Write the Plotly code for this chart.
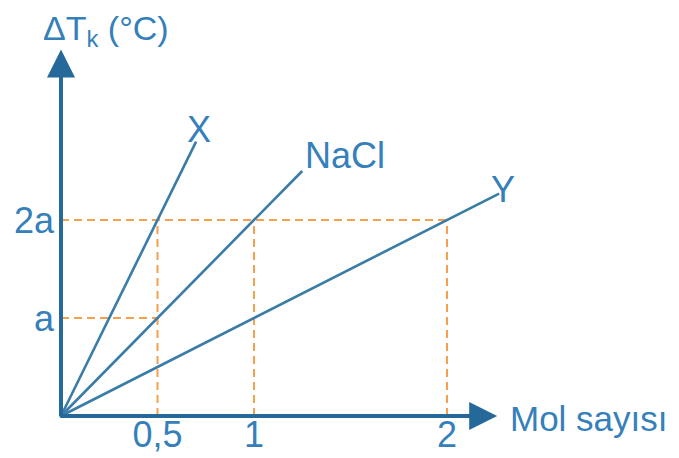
import plotly.graph_objects as go

# ---- data (y in units of "a", x in mol) ----
series_names = ["X", "NaCl", "Y"]
series_x = [[0, 0.7], [0, 1.25], [0, 2.27]]
series_y = [[0, 2.8], [0, 2.5], [0, 2.27]]

x_tick_vals = [0.5, 1, 2]
x_tick_text = ["0,5", "1", "2"]
y_tick_vals = [1, 2]
y_tick_text = ["a", "2a"]

# guide points
guide_x = [0.5, 1, 2]
guide_top = [2, 2, 2]
hguide_y = [1, 2]
hguide_xend = [0.5, 2]

AXIS = "#24699a"
LINE = "#3a7ca7"
TEXT = "#3580bb"
ORANGE = "#f5a04c"
FONT = "Liberation Sans, Arial, sans-serif"
FS = 36

# page body has an 8px margin -> figure is drawn 8px smaller and offset
W, H = 671, 450
OX, OY = 53, 408          # origin pixel inside figure
KX, KY = 193, 98          # pixels per unit

fig = go.Figure()

for gx, gt in zip(guide_x, guide_top):
    fig.add_trace(go.Scatter(x=[gx, gx], y=[0, gt], mode="lines",
                             line=dict(color=ORANGE, width=2, dash="8px,5px"),
                             hoverinfo="skip", showlegend=False))
for hy, hx in zip(hguide_y, hguide_xend):
    fig.add_trace(go.Scatter(x=[0, hx], y=[hy, hy], mode="lines",
                             line=dict(color=ORANGE, width=2, dash="8px,5px"),
                             hoverinfo="skip", showlegend=False))

for name, xs, ys in zip(series_names, series_x, series_y):
    fig.add_trace(go.Scatter(x=xs, y=ys, mode="lines", name=name,
                             line=dict(color=LINE, width=2.6),
                             showlegend=False))

annotations = []
# axis arrows
annotations.append(dict(x=2.26, y=0, ax=-0.012, ay=0, xref="x", yref="y",
                        axref="x", ayref="y", showarrow=True, arrowhead=2,
                        arrowwidth=4, arrowsize=1.4, arrowcolor=AXIS, text=""))
annotations.append(dict(x=0, y=3.74, ax=0, ay=-0.02, xref="x", yref="y",
                        axref="x", ayref="y", showarrow=True, arrowhead=2,
                        arrowwidth=4, arrowsize=1.4, arrowcolor=AXIS, text=""))

label_pos = {"X": (0.715, 2.92, "center"), "NaCl": (1.255, 2.66, "left"),
             "Y": (2.29, 2.31, "center")}
for name in series_names:
    lx, ly, anc = label_pos[name]
    annotations.append(dict(x=lx, y=ly, xref="x", yref="y", text=name,
                            showarrow=False, xanchor=anc, yanchor="middle",
                            font=dict(family=FONT, size=FS, color=TEXT)))

annotations.append(dict(x=-0.105, y=3.93, xref="x", yref="y",
                        text="ΔT<sub>k</sub> (°C)", showarrow=False,
                        xanchor="left", yanchor="middle",
                        font=dict(family=FONT, size=34, color=TEXT)))
annotations.append(dict(x=2.318, y=0, xref="x", yref="y", text="Mol sayısı",
                        showarrow=False, xanchor="left", yanchor="middle",
                        yshift=-2,
                        font=dict(family=FONT, size=35, color=TEXT)))

fig.update_layout(
    width=W, height=H,
    margin=dict(l=0, r=0, t=0, b=0, pad=0, autoexpand=False),
    paper_bgcolor="white", plot_bgcolor="white",
    annotations=annotations,
    xaxis=dict(range=[-OX / KX, (W - OX) / KX], showgrid=False, zeroline=False,
               showline=False, tickmode="array", tickvals=x_tick_vals,
               ticktext=x_tick_text, ticks="", ticklabelstandoff=-6,
               anchor="free", position=(H - OY) / H,
               tickfont=dict(family=FONT, size=FS, color=TEXT), fixedrange=True),
    yaxis=dict(range=[-(H - OY) / KY, OY / KY], showgrid=False, zeroline=False,
               showline=False, tickmode="array", tickvals=y_tick_vals,
               ticktext=y_tick_text, ticks="", ticklabelstandoff=7,
               anchor="free", position=OX / W,
               tickfont=dict(family=FONT, size=FS, color=TEXT), fixedrange=True),
)

fig.write_html("out.html")
